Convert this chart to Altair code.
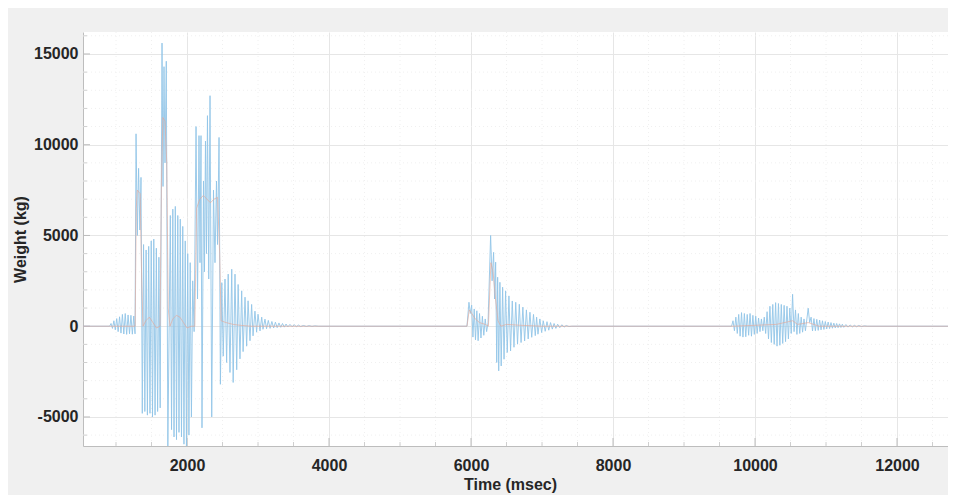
import altair as alt
import pandas as pd

# ---- blue signal (hand-read peaks), segment by segment ----
t0 = [535, 910]
w0 = [0, 0]

t1 = [930, 950, 970, 990, 1010, 1030, 1050, 1070, 1090, 1110, 1130, 1150, 1170, 1190, 1210, 1230, 1250, 1268]
w1 = [150, -120, 300, -200, 420, -300, 520, -380, 650, -430, 700, -450, 620, -420, 600, -440, 560, -420]

t2 = [1282, 1300, 1318, 1336, 1352, 1370, 1388, 1406, 1424, 1442, 1460, 1478, 1496, 1514, 1532, 1550, 1568, 1586, 1604, 1622]
w2 = [10600, 5000, 8700, 5300, 8200, -4800, 4500, -4700, 4200, -4900, 4400, -4800, 4700, -5000, 4800, -4900, 4300, -4700, 3800, -4500]

t3 = [1648, 1662, 1676, 1690, 1708, 1730]
w3 = [15600, 7700, 14300, 9000, 14600, -6700]

t4 = [1765, 1782, 1800, 1817, 1835, 1852, 1870, 1887, 1905, 1922, 1940, 1957, 1975, 1992, 2010, 2027, 2045, 2062, 2080]
w4 = [6100, -5700, 6450, -6100, 6600, -6250, 6100, -5850, 5900, -6100, 5500, -6500, 4700, -6700, 4000, -6000, 3500, -5000, 2500]

t5 = [2100, 2127, 2148, 2169, 2183, 2197, 2211, 2232, 2246, 2260, 2274, 2288, 2306, 2324, 2348, 2373, 2394, 2415, 2430, 2451, 2470]
w5 = [-300, 11000, 1500, 10500, 3500, 10500, -5600, 8000, 3000, 10200, 4000, 11600, 2600, 12700, -5000, 7500, 3500, 8000, 4500, 10400, -3200]

t6 = [2490, 2510, 2535, 2558, 2580, 2605, 2630, 2650, 2676, 2700, 2720, 2746, 2770, 2790, 2817, 2840, 2860, 2887, 2910, 2930,
      2957, 2980, 3000, 3028, 3052, 3070, 3098, 3120, 3145, 3170, 3195, 3220, 3245, 3270, 3295, 3320, 3345, 3370, 3395, 3420,
      3450, 3480, 3510, 3540, 3570, 3600, 3640, 3680, 3720, 3760, 3800, 3850]
w6 = [2400, -1650, 2600, -2000, 2870, -2550, 3140, -3100, 2870, -2400, 2300, -1800, 1950, -1400, 1600, -1100, 1400, -800, 1200, -530,
      830, -330, 660, -260, 500, -170, 390, -140, 320, -120, 260, -100, 220, -80, 180, -60, 150, -50, 120, -40,
      100, -30, 80, -25, 60, -20, 40, -15, 30, -10, 20, 0]

t7 = [5943, 5971, 5990, 6009, 6027, 6045, 6063, 6082, 6100, 6120, 6140, 6160, 6180, 6200, 6220, 6240, 6276, 6297, 6318, 6332,
      6347, 6362, 6375, 6390, 6407, 6425, 6445, 6465, 6487, 6510, 6534, 6557, 6581, 6605, 6630, 6655, 6680, 6705, 6730, 6755,
      6780, 6805, 6830, 6855, 6880, 6905, 6924, 6943, 6970, 6995, 7017, 7045, 7070, 7095, 7120, 7145, 7170, 7195, 7220, 7250,
      7280, 7310, 7340, 7380, 7420, 9670]
w7 = [0, 1320, 700, 1160, -600, 950, -750, 850, -800, 700, -650, 550, -500, 400, -300, 200, 5000, 2500, 4070, 1500,
      3530, -2000, 2700, -2460, 2420, -2190, 2150, -1820, 1950, -1450, 1670, -1360, 1390, -1160, 1320, -990, 1210, -900, 1050, -810,
      900, -700, 770, -610, 650, -520, 500, -440, 400, -350, 300, -280, 250, -220, 200, -160, 150, -120, 110, -80,
      80, -50, 40, -20, 0, 0]

t8 = [9690, 9710, 9730, 9750, 9770, 9790, 9810, 9830, 9850, 9870, 9890, 9910, 9930, 9950, 9970, 9990, 10010, 10030, 10050, 10070,
      10090, 10110, 10130, 10150, 10170, 10190, 10210, 10230, 10250, 10270, 10290, 10310, 10330, 10350, 10370, 10390, 10410, 10430, 10450, 10470,
      10490, 10510, 10529, 10550, 10570, 10590, 10610, 10630, 10650, 10670, 10690, 10710, 10749, 10770, 10790, 10810, 10830, 10850, 10870, 10890,
      10910, 10930, 10950, 10970, 10990, 11010, 11030, 11050, 11070, 11090, 11110, 11130, 11150, 11170, 11190, 11210, 11230, 11250, 11280, 11310,
      11340, 11370, 11400, 11430, 11460, 11500, 11540, 11580, 12831]
w8 = [300, -250, 500, -400, 650, -550, 750, -600, 700, -580, 650, -500, 700, -550, 600, -450, 550, -400, 450, -300,
      400, -250, 500, -400, 800, -700, 1100, -900, 1200, -1000, 1300, -1100, 1250, -1050, 1200, -950, 1150, -850, 1100, -700,
      1000, -400, 1760, -300, 900, -450, 700, -400, 500, -330, 400, -250, 990, 200, 500, -260, 420, -250, 380, -230,
      340, -200, 300, -180, 260, -150, 230, -130, 200, -110, 170, -90, 150, -80, 130, -70, 110, -60, 90, -50,
      70, -40, 50, -30, 40, -20, 20, 0, 0]

# ---- smoothed (orange) signal ----
t_smooth = [535, 1270, 1285, 1300, 1340, 1362, 1380, 1420, 1470, 1520, 1570, 1620, 1640, 1660, 1690, 1715, 1735, 1760, 1800, 1850,
            1900, 1950, 2000, 2060, 2110, 2135, 2180, 2230, 2280, 2330, 2380, 2430, 2460, 2480, 2550, 2650, 2750, 2900, 3100, 5943,
            5975, 6010, 6060, 6120, 6200, 6245, 6280, 6310, 6345, 6380, 6420, 6500, 6700, 7000, 9690, 10000, 10300, 10530, 10600, 10750,
            10900, 12831]
w_smooth = [0, 0, 6500, 7500, 7300, 2500, 0, 300, 500, 200, -100, 0, 8000, 11500, 11300, 9000, 1000, 0, 400, 600,
            500, 200, -100, 0, 0, 6500, 7000, 7200, 7000, 6800, 7000, 7100, 4000, 300, 200, 100, 50, 0, 0, 0,
            900, 700, 400, 200, 100, 0, 3500, 3000, 1500, 300, 0, 100, 50, 0, 0, 50, 100, 300, 100, 200,
            0, 0]

# ---- axes ----
x_major = [2000, 4000, 6000, 8000, 10000, 12000]
x_minor = [1000, 1500, 2500, 3000, 3500, 4500, 5000, 5500, 6500, 7000, 7500, 8500, 9000, 9500, 10500, 11000, 11500, 12500]
y_major = [-5000, 0, 5000, 10000, 15000]
y_minor = [-6000, -4000, -3000, -2000, -1000, 1000, 2000, 3000, 4000, 6000, 7000, 8000, 9000, 11000, 12000, 13000, 14000, 16000]
x_domain = [535, 12718]
y_domain = [-6600, 16210]

W, H = 865, 414
FONT = "Liberation Sans"

blue = pd.DataFrame({
    "t": t0 + t1 + t2 + t3 + t4 + t5 + t6 + t7 + t8,
    "w": w0 + w1 + w2 + w3 + w4 + w5 + w6 + w7 + w8,
})
smooth = pd.DataFrame({"t": t_smooth, "w": w_smooth})

xscale = alt.Scale(domain=x_domain, nice=False, zero=False)
yscale = alt.Scale(domain=y_domain, nice=False, zero=False)

xaxis = alt.Axis(values=x_major, labelExpr="'' + datum.value", title="Time (msec)", grid=True, gridColor="#e6e6e6",
                 domainColor="#bdbdbd", ticks=False, tickSize=0, labelPadding=11,
                 labelFont=FONT, labelFontSize=16, labelFontWeight="bold", labelColor="#262626",
                 titleFont=FONT, titleFontSize=16, titleFontWeight="bold", titleColor="#262626",
                 titleX=427, titleY=38, titleBaseline="middle", titleAnchor="middle", titleAlign="center")
yaxis = alt.Axis(values=y_major, labelExpr="'' + datum.value", title="Weight (kg)", grid=True, gridColor="#e6e6e6",
                 domainColor="#bdbdbd", ticks=False, tickSize=0, labelPadding=5,
                 labelFont=FONT, labelFontSize=16, labelFontWeight="bold", labelColor="#262626",
                 titleFont=FONT, titleFontSize=16, titleFontWeight="bold", titleColor="#262626",
                 titleX=-63, titleY=207, titleBaseline="middle", titleAlign="center", titleAngle=270)

minor_x_df = pd.DataFrame({"t": x_minor})
minor_y_df = pd.DataFrame({"w": y_minor})
major_x_df = pd.DataFrame({"t": x_major})
major_y_df = pd.DataFrame({"w": y_major})

minor_v = alt.Chart(minor_x_df).mark_rule(color="#f0f0f0", strokeWidth=1, strokeDash=[1, 3]).encode(
    x=alt.X("t:Q", scale=xscale, axis=xaxis), y=alt.value(0), y2=alt.value(H))
minor_h = alt.Chart(minor_y_df).mark_rule(color="#f0f0f0", strokeWidth=1, strokeDash=[1, 3]).encode(
    y=alt.Y("w:Q", scale=yscale, axis=yaxis), x=alt.value(0), x2=alt.value(W))

ticks_x = alt.Chart(major_x_df).mark_rule(color="#bdbdbd", strokeWidth=1).encode(
    x=alt.X("t:Q", scale=xscale, axis=xaxis), y=alt.value(H - 8), y2=alt.value(H))
ticks_y = alt.Chart(major_y_df).mark_rule(color="#bdbdbd", strokeWidth=1).encode(
    y=alt.Y("w:Q", scale=yscale, axis=yaxis), x=alt.value(0), x2=alt.value(7))
mticks_x = alt.Chart(minor_x_df).mark_rule(color="#cfcfcf", strokeWidth=1).encode(
    x=alt.X("t:Q", scale=xscale, axis=xaxis), y=alt.value(H - 4), y2=alt.value(H))
mticks_y = alt.Chart(minor_y_df).mark_rule(color="#cfcfcf", strokeWidth=1).encode(
    y=alt.Y("w:Q", scale=yscale, axis=yaxis), x=alt.value(0), x2=alt.value(4))

blue_line = alt.Chart(blue).mark_line(color="#92c5e8", strokeWidth=1, opacity=0.9, clip=True).encode(
    x=alt.X("t:Q", scale=xscale, axis=xaxis), y=alt.Y("w:Q", scale=yscale, axis=yaxis))
orange_line = alt.Chart(smooth).mark_line(color="#e3a99a", strokeWidth=1, opacity=0.65, clip=True).encode(
    x=alt.X("t:Q", scale=xscale, axis=xaxis), y=alt.Y("w:Q", scale=yscale, axis=yaxis))

chart = alt.layer(minor_v, minor_h, ticks_x, ticks_y, mticks_x, mticks_y, blue_line, orange_line).properties(
    width=W, height=H, background="#f0f0f0",
    padding={"left": 75, "top": 24, "right": 0, "bottom": 49},
    autosize=alt.AutoSizeParams(type="none"),
).configure_view(stroke=None, fill="white")

chart.save("out.html", embed_options={"renderer": "svg", "actions": False})
